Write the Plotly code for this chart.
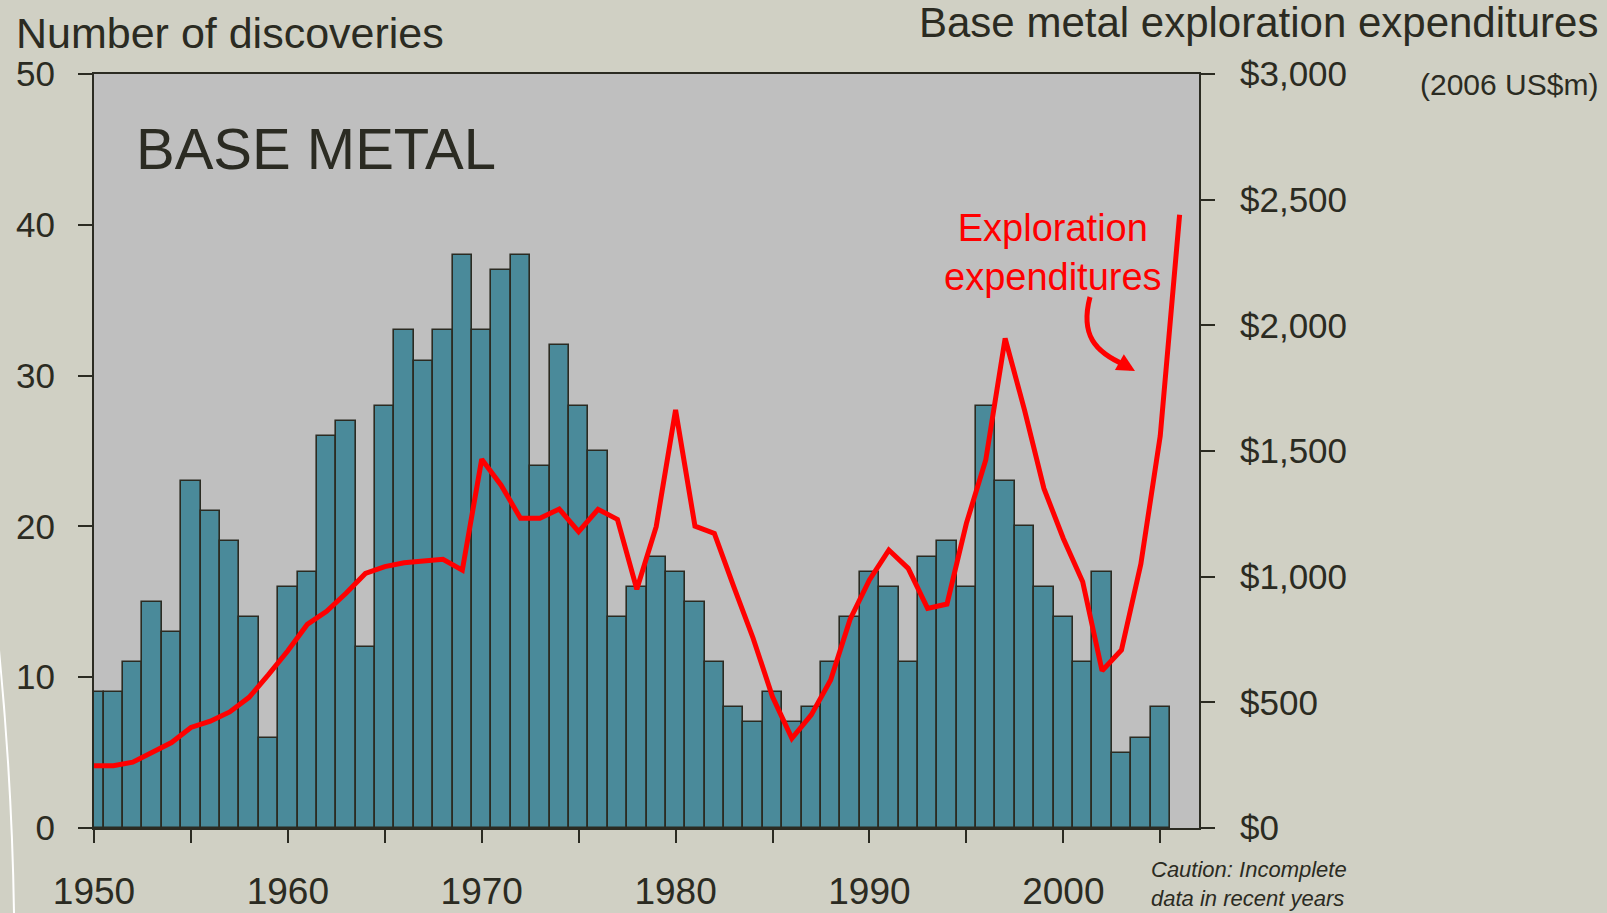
import plotly.graph_objects as go
from plotly.subplots import make_subplots

years = list(range(1950, 2006))
discoveries = [9, 9, 11, 15, 13, 23, 21, 19, 14, 6,
               16, 17, 26, 27, 12, 28, 33, 31, 33, 38,
               33, 37, 38, 24, 32, 28, 25, 14, 16, 18,
               17, 15, 11, 8, 7, 9, 7, 8, 11, 14,
               17, 16, 11, 18, 19, 16, 28, 23, 20, 16,
               14, 11, 17, 5, 6, 8]

exp_years = list(range(1950, 2007))
expenditures = [248, 248, 262, 300, 340, 400, 425, 462, 520, 610,
                705, 810, 862, 934, 1013, 1040, 1055, 1062, 1069, 1026,
                1467, 1364, 1232, 1232, 1269, 1179, 1268, 1228, 950, 1199,
                1663, 1201, 1172, 960, 755, 522, 357, 450, 589, 830,
                987, 1106, 1033, 874, 891, 1212, 1464, 1948, 1663, 1351,
                1152, 980, 626, 708, 1050, 1560, 2440]

x_tickvals = list(range(1950, 2006, 5))
x_ticktext = [str(v) if v % 10 == 0 else '' for v in x_tickvals]

FONT = "Liberation Sans, Arial, sans-serif"
INK = '#2b2b22'
W, H = 1607, 913
L, R, T, B = 94, 1199, 74, 828  # plot area in pixels


def px(x):
    return (x - L) / (R - L)


def py(y):
    return (B - y) / (B - T)


fig = make_subplots(specs=[[{"secondary_y": True}]])

fig.add_trace(go.Bar(
    x=years,
    y=discoveries,
    width=1,
    marker=dict(color='#4a8a9a', line=dict(color=INK, width=1.6)),
    name='Number of discoveries',
), secondary_y=False)

fig.add_trace(go.Scatter(
    x=exp_years,
    y=expenditures,
    mode='lines',
    line=dict(color='#ff0000', width=5),
    name='Exploration expenditures',
), secondary_y=True)

fig.update_layout(
    width=W, height=H,
    margin=dict(l=L, r=W - R, t=T, b=H - B, pad=0, autoexpand=False),
    paper_bgcolor='#d0d0c4',
    plot_bgcolor='#bfbfbf',
    showlegend=False,
    bargap=0,
    font=dict(family=FONT, color=INK, size=35),
)

fig.update_xaxes(
    domain=[0, 1],
    range=[1950, 2007],
    tickvals=x_tickvals, ticktext=x_ticktext,
    ticks='outside', ticklen=13, tickwidth=1.5, tickcolor=INK,
    showline=True, linecolor=INK, linewidth=2, mirror=True,
    showgrid=False, zeroline=False, automargin=False,
    tickfont=dict(size=37),
    ticklabelstandoff=17,
)
fig.update_yaxes(
    range=[0, 50], dtick=10,
    ticks='outside', ticklen=14, tickwidth=1.5, tickcolor=INK,
    showline=True, linecolor=INK, linewidth=2, mirror=True,
    showgrid=False, zeroline=False, automargin=False,
    tickfont=dict(size=35),
    ticklabelstandoff=16,
    secondary_y=False,
)
fig.update_yaxes(
    range=[0, 3000], dtick=500,
    tickprefix='$', tickformat=',d',
    ticks='outside', ticklen=14, tickwidth=1.5, tickcolor=INK,
    showline=True, linecolor=INK, linewidth=2,
    showgrid=False, zeroline=False, automargin=False,
    tickfont=dict(size=35),
    ticklabelstandoff=18,
    secondary_y=True,
)

annotations = [
    dict(text='Number of discoveries', x=px(14), y=py(33), xanchor='left', yanchor='middle',
         font=dict(size=43)),
    dict(text='Base metal exploration expenditures', x=px(1600), y=py(22), xanchor='right', yanchor='middle',
         font=dict(size=42)),
    dict(text='(2006 US$m)', x=px(1600), y=py(85), xanchor='right', yanchor='middle',
         font=dict(size=30)),
    dict(text='BASE METAL', x=px(134), y=py(148), xanchor='left', yanchor='middle',
         font=dict(size=58)),
    dict(text='Exploration<br>expenditures', x=px(1053), y=py(252), xanchor='center', yanchor='middle',
         font=dict(size=38, color='#ff0000')),
    dict(text='<i>Caution: Incomplete<br>data in recent years</i>', x=px(1149), y=py(884),
         xanchor='left', yanchor='middle', align='left',
         font=dict(size=22)),
]
for a in annotations:
    a.update(xref='paper', yref='paper', showarrow=False)
    fig.add_annotation(**a)

# curved pointer from the label to the line
fig.add_shape(type='path', xref='paper', yref='paper',
              path=f'M {px(1090)},{py(297)} C {px(1080)},{py(335)} {px(1095)},{py(352)} {px(1125)},{py(365)}',
              line=dict(color='#ff0000', width=5))
fig.add_annotation(xref='paper', yref='paper', axref='pixel', ayref='pixel',
                   x=px(1135), y=py(371), ax=-14, ay=-8, text='',
                   showarrow=True, arrowhead=2, arrowsize=0.9, arrowwidth=4, arrowcolor='#ff0000')

# white decorative arc at the left edge
fig.add_shape(type='path', xref='paper', yref='paper',
              path=f'M {px(-2)},{py(640)} Q {px(12)},{py(780)} {px(14)},{py(913)}',
              line=dict(color='#ffffff', width=2))

fig.write_html("out.html", config={'displayModeBar': False},
               post_script="document.body.style.margin='0px';")
